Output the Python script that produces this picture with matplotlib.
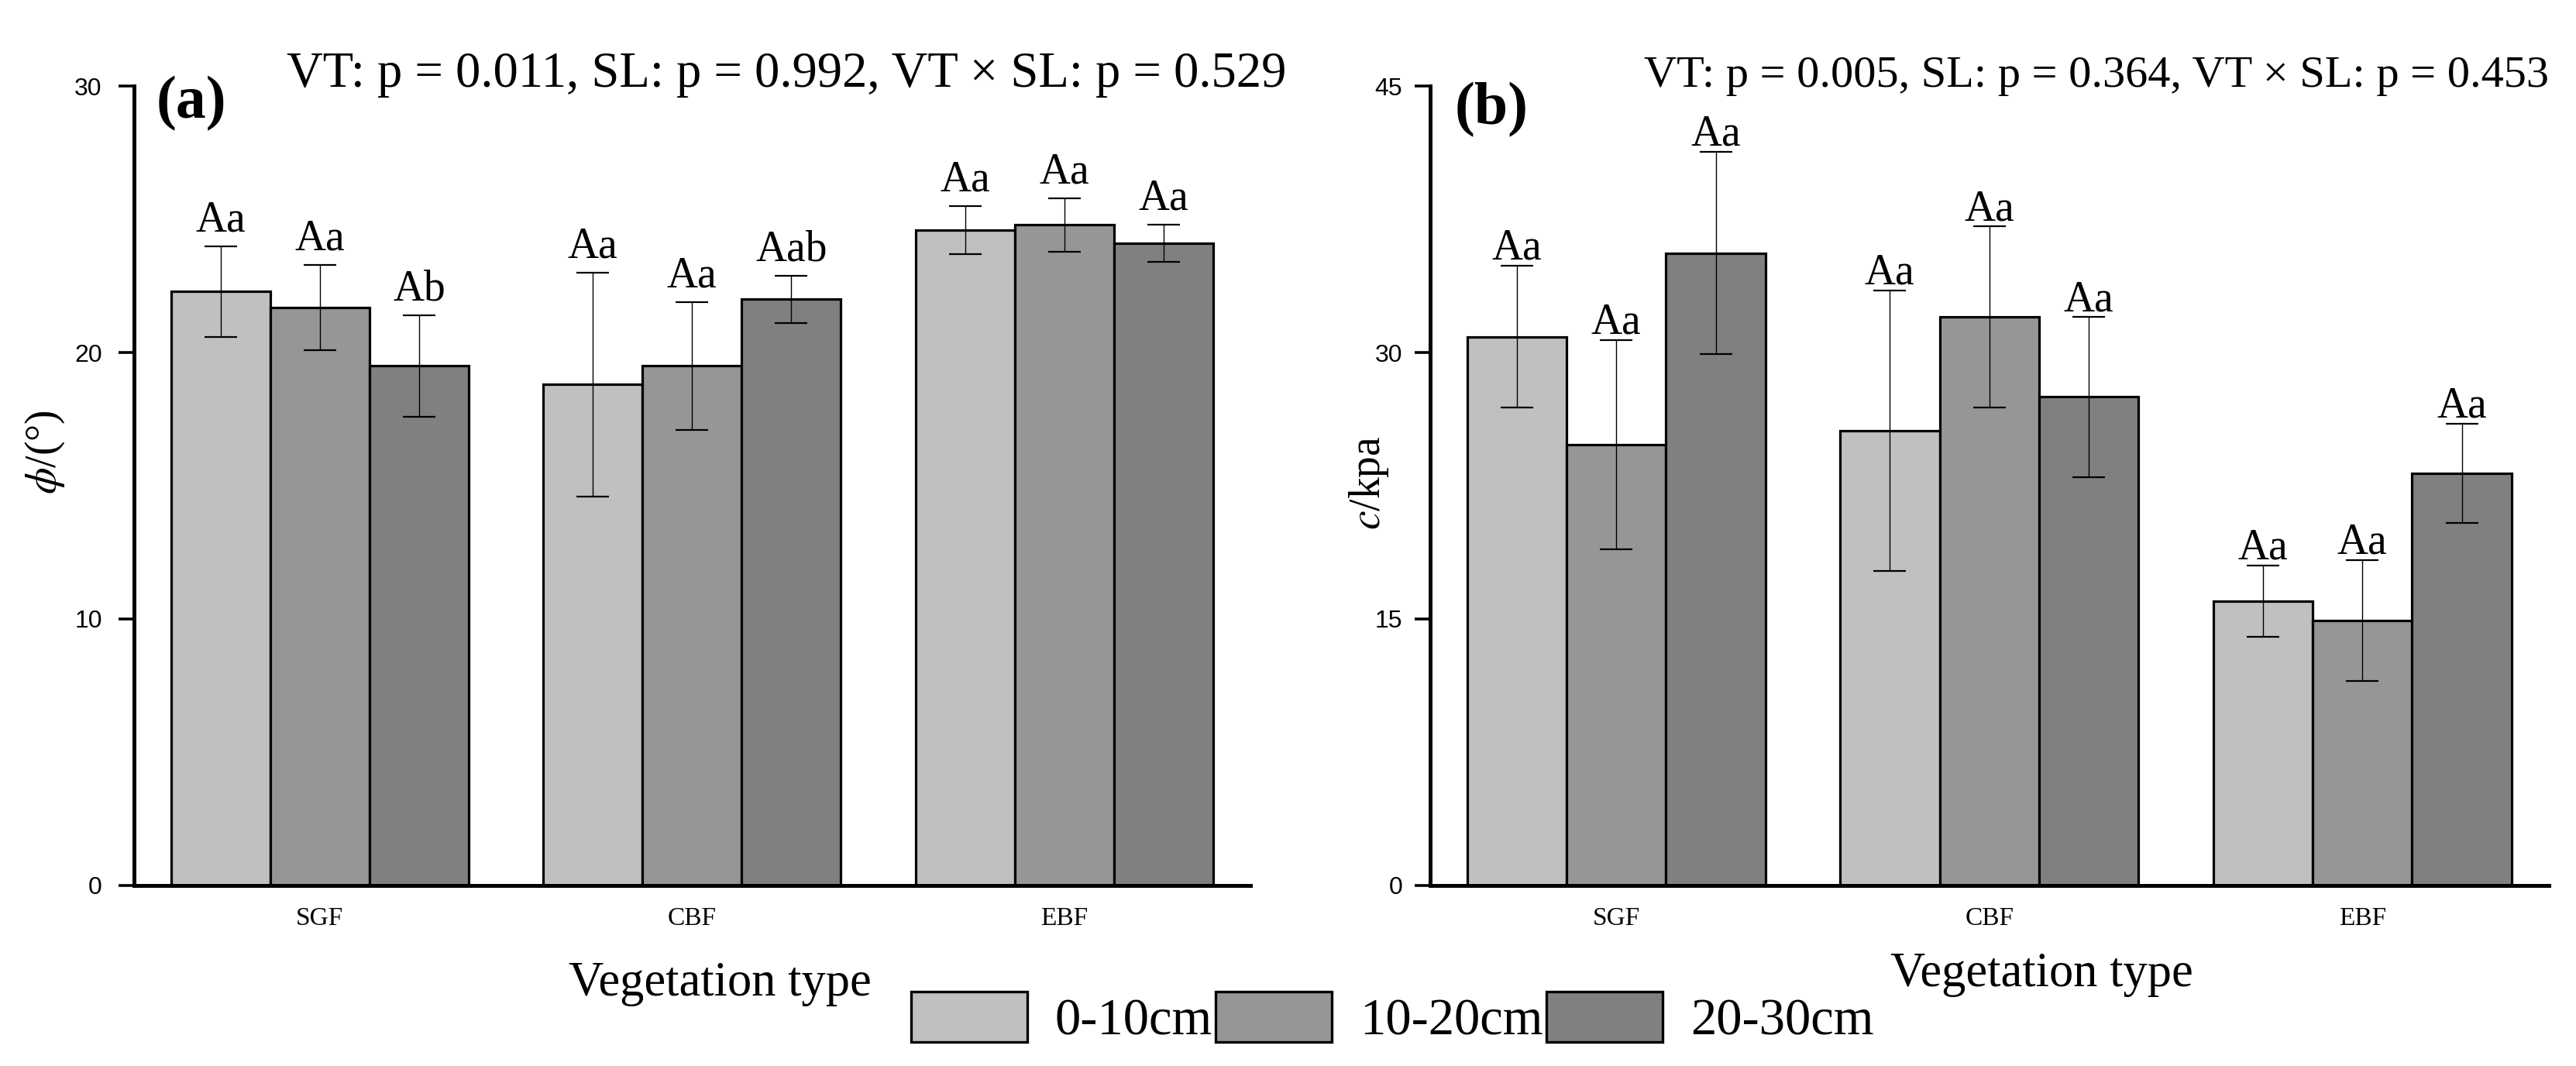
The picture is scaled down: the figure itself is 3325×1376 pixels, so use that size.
import numpy as np
import matplotlib
matplotlib.use("Agg")
import matplotlib.pyplot as plt
from matplotlib.patches import Patch

# ---------------- data ----------------
categories = ["SGF", "CBF", "EBF"]
depths = ["0-10cm", "10-20cm", "20-30cm"]

# Panel (a): internal friction angle phi (degrees)
phi_0_10 = [22.3, 18.8, 24.6]
phi_10_20 = [21.7, 19.5, 24.8]
phi_20_30 = [19.5, 22.0, 24.1]
phi_err_0_10 = [1.7, 4.2, 0.9]
phi_err_10_20 = [1.6, 2.4, 1.0]
phi_err_20_30 = [1.9, 0.9, 0.7]
phi_let_0_10 = ["Aa", "Aa", "Aa"]
phi_let_10_20 = ["Aa", "Aa", "Aa"]
phi_let_20_30 = ["Ab", "Aab", "Aa"]

# Panel (b): cohesion c (kpa)
c_0_10 = [30.9, 25.6, 16.0]
c_10_20 = [24.8, 32.0, 14.9]
c_20_30 = [35.6, 27.5, 23.2]
c_err_0_10 = [4.0, 7.9, 2.0]
c_err_10_20 = [5.9, 5.1, 3.4]
c_err_20_30 = [5.7, 4.5, 2.8]
c_let_0_10 = ["Aa", "Aa", "Aa"]
c_let_10_20 = ["Aa", "Aa", "Aa"]
c_let_20_30 = ["Aa", "Aa", "Aa"]

phi_ticks = [0, 10, 20, 30]
c_ticks = [0, 15, 30, 45]

p_text_a = "VT: p = 0.011, SL: p = 0.992, VT \u00d7 SL: p = 0.529"
p_text_b = "VT: p = 0.005, SL: p = 0.364, VT \u00d7 SL: p = 0.453"

# ---------------- style ----------------
colors = ["#C0C0C0", "#969696", "#808080"]
plt.rcParams["font.family"] = ["Liberation Serif", "DejaVu Serif"]
plt.rcParams["mathtext.fontset"] = "stix"

W, H = 3325, 1376
fig = plt.figure(figsize=(W / 100, H / 100), dpi=100)

axA = fig.add_axes([172.5 / W, 1 - 1142.5 / H, (1614 - 172.5) / W, 1031 / H])
axB = fig.add_axes([1845.5 / W, 1 - 1142.5 / H, (3290 - 1845.5) / W, 1031 / H])

width = 0.8 / 3


def draw(ax, means, errs, letters, yticks, ylabel, lab_off, ypad):
    x = np.arange(len(categories))
    for i, color in enumerate(colors):
        xs = x + (i - 1) * width
        ax.bar(xs, means[i], width, color=color, edgecolor="black",
               linewidth=2.3, zorder=2)
        ax.errorbar(xs, means[i], yerr=errs[i], fmt="none", ecolor="black",
                    elinewidth=1.0, capsize=15, capthick=1.6, zorder=3)
        for xi, m, e, lab in zip(xs, means[i], errs[i], letters[i]):
            ax.annotate(lab, (xi, m + e), xytext=(0, lab_off),
                        textcoords="offset points", ha="center",
                        va="baseline", fontsize=40, zorder=4)
    ax.set_xlim(-0.5, 2.5)
    ax.set_ylim(yticks[0], yticks[-1])
    ax.set_yticks(yticks)
    ax.set_xticks(x)
    ax.set_xticklabels(categories, fontsize=24)
    ax.tick_params(axis="x", direction="in", length=14.4, width=3.6, pad=20)
    ax.tick_params(axis="y", direction="out", length=14.4, width=2.6, pad=ypad,
                   labelsize=23, labelfontfamily="Liberation Sans")
    for s in ["top", "right"]:
        ax.spines[s].set_visible(False)
    for s in ["left", "bottom"]:
        ax.spines[s].set_linewidth(3.6)
    ax.set_ylabel(ylabel, fontsize=40)
    ax.set_xlabel("Vegetation type", fontsize=45)


draw(axA, [phi_0_10, phi_10_20, phi_20_30],
     [phi_err_0_10, phi_err_10_20, phi_err_20_30],
     [phi_let_0_10, phi_let_10_20, phi_let_20_30],
     phi_ticks, "$\\phi$/(\u00b0)", 14, 15)
draw(axB, [c_0_10, c_10_20, c_20_30],
     [c_err_0_10, c_err_10_20, c_err_20_30],
     [c_let_0_10, c_let_10_20, c_let_20_30],
     c_ticks, "$c$/kpa", 6, 11)

# axis label placement
axA.yaxis.set_label_coords(-0.0794, 0.5417)
axA.yaxis.label.set_va("center")
axB.yaxis.set_label_coords(-0.0543, 0.504)
axB.yaxis.label.set_va("center")
axA.xaxis.set_label_coords(0.525, (1142.5 - 1285) / 1031)
axA.xaxis.label.set_va("baseline")
axB.xaxis.set_label_coords(0.547, (1142.5 - 1273) / 1031)
axB.xaxis.label.set_va("baseline")

# panel tags and p-values
fig.text(202 / W, 1 - 152 / H, "(a)", fontsize=56, fontweight="bold", va="baseline")
fig.text(1878 / W, 1 - 160 / H, "(b)", fontsize=56, fontweight="bold", va="baseline")
fig.text(370 / W, 1 - 112 / H, p_text_a, fontsize=46.5, va="baseline")
fig.text(3290 / W, 1 - 112 / H, p_text_b, fontsize=42, va="baseline", ha="right")

# legend
handles = [Patch(facecolor=c, edgecolor="black", linewidth=2.4) for c in colors]
fig.legend(handles, depths, loc="center left",
           bbox_to_anchor=(1176 / W, 1 - 1314.5 / H), ncol=3, frameon=False,
           fontsize=48, handlelength=2.25, handleheight=1.12,
           handletextpad=0.54, columnspacing=0.06, borderpad=0,
           borderaxespad=0)

fig.savefig("out.png", dpi=100)
